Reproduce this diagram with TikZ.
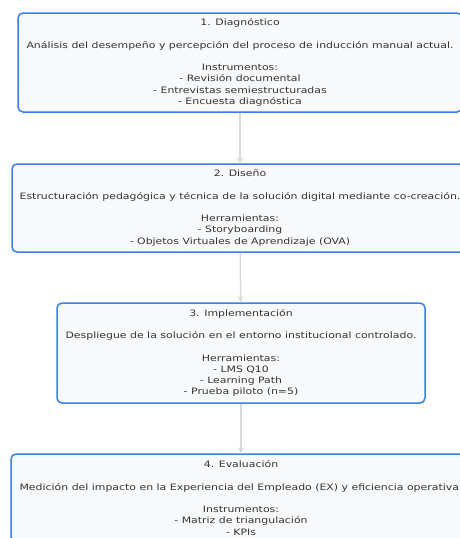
\documentclass[tikz,border=0pt]{standalone}
\usepackage{fontspec}
\setmainfont{DejaVu Sans}[FakeStretch=1.24]
\usepackage{tikz}
\usetikzlibrary{arrows.meta,positioning}
\definecolor{stageblue}{HTML}{3B7EEE}
\definecolor{stagefill}{HTML}{F8F9FB}
\definecolor{stagetext}{HTML}{333333}
\definecolor{linkgray}{HTML}{DADADA}
\tikzset{
  stage/.style={draw=stageblue,line width=1.5pt,fill=stagefill,rounded corners=5pt,
    align=center,text=stagetext,inner sep=0pt,
    font=\fontsize{8.8}{11.2}\selectfont},
  every node/.style={font=\small}
}
\tikzstyle{link} = [line width=1.5pt,draw=linkgray,-{Stealth[length=6pt,width=6pt]}]

\begin{document}
\begin{tikzpicture}[x=1pt,y=-1pt]
  \useasboundingbox (0,0) rectangle (460,538);
  \node[stage,minimum width=444pt,minimum height=99pt] (diag) at (240,62.5)
    {1. Diagnóstico\\[11.2pt]
     Análisis del desempeño y percepción del proceso de inducción manual actual.\\[11.2pt]
     Instrumentos:\\- Revisión documental\\- Entrevistas semiestructuradas\\- Encuesta diagnóstica};
  \node[stage,minimum width=456pt,minimum height=88pt] (dise) at (240,208)
    {2. Diseño\\[11.2pt]
     Estructuración pedagógica y técnica de la solución digital mediante co-creación.\\[11.2pt]
     Herramientas:\\- Storyboarding\\- Objetos Virtuales de Aprendizaje (OVA)};
  \node[stage,minimum width=368pt,minimum height=100pt] (impl) at (241,353)
    {3. Implementación\\[11.2pt]
     Despliegue de la solución en el entorno institucional controlado.\\[11.2pt]
     Herramientas:\\- LMS Q10\\- Learning Path\\- Prueba piloto (n=5)};
  \node[stage,minimum width=460pt,minimum height=88pt] (eval) at (241,498)
    {4. Evaluación\\[11.2pt]
     Medición del impacto en la Experiencia del Empleado (EX) y eficiencia operativa.\\[11.2pt]
     Instrumentos:\\- Matriz de triangulación\\- KPIs};
  % flujo entre etapas
  \draw[link] (diag) -- (dise);
  \draw[link] (dise) -- (impl);
  \draw[link] (impl) -- (eval);
\end{tikzpicture}
\end{document}
